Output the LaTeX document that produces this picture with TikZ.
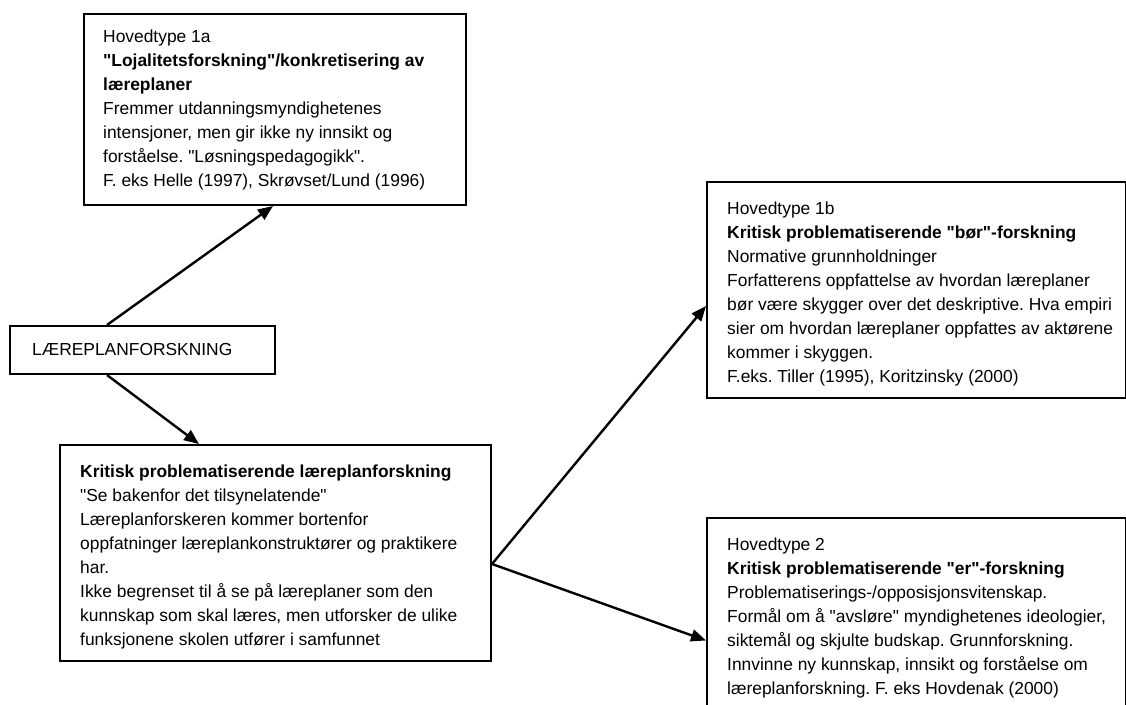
\documentclass[tikz,border=0pt]{standalone}
\usepackage{fontspec}
% plain family: no TeX ligatures, so " stays a straight quote
\newfontfamily\arialfont{Liberation Sans}
\usetikzlibrary{arrows.meta}
\newcommand{\lead}{\rule{0pt}{14pt}}
\begin{document}
\begin{tikzpicture}[x=1pt,y=-1pt,
  frame/.style={draw=black, line width=2pt, rectangle, anchor=north west, inner sep=0pt},
  body/.style={anchor=north west, inner sep=0pt, align=left,
               font=\arialfont\frenchspacing\fontsize{17.4pt}{24pt}\selectfont},
  link/.style={line width=2.4pt, -{Triangle[length=15pt,width=12pt]}}]
\useasboundingbox (0,0) rectangle (1126,704);
\clip (0,0) rectangle (1126,704);
\fill[white] (0,0) rectangle (1126,704);

% frames
\node[frame, minimum width=382pt, minimum height=191pt] (A) at (83,13) {};
\node[frame, minimum width=265pt, minimum height=48pt]  (L) at (9,325) {};
\node[frame, minimum width=431pt, minimum height=216pt] (M) at (59,444) {};
\node[frame, minimum width=419pt, minimum height=216pt] (B) at (706,181) {};
\node[frame, minimum width=419pt, minimum height=210pt] (C) at (706,517) {};

% texts
\node[body] (At) at (103,28) {\lead Hovedtype 1a\\
\textbf{"Lojalitetsforskning"/konkretisering av}\\
\textbf{læreplaner}\\
Fremmer utdanningsmyndighetenes\\
intensjoner, men gir ikke ny innsikt og\\
forståelse. "Løsningspedagogikk".\\
F. eks Helle (1997), Skrøvset/Lund (1996)};

\node[body] (Lt) at (32,341) {\lead LÆREPLANFORSKNING};

\node[body] (Mt) at (80,463) {\lead\textbf{Kritisk problematiserende læreplanforskning}\\
"Se bakenfor det tilsynelatende"\\
Læreplanforskeren kommer bortenfor\\
oppfatninger læreplankonstruktører og praktikere\\
har.\\
Ikke begrenset til å se på læreplaner som den\\
kunnskap som skal læres, men utforsker de ulike\\
funksjonene skolen utfører i samfunnet};

\node[body] (Bt) at (727,200) {\lead Hovedtype 1b\\
\textbf{Kritisk problematiserende "bør"-forskning}\\
Normative grunnholdninger\\
Forfatterens oppfattelse av hvordan læreplaner\\
bør være skygger over det deskriptive. Hva empiri\\
sier om hvordan læreplaner oppfattes av aktørene\\
kommer i skyggen.\\
F.eks. Tiller (1995), Koritzinsky (2000)};

\node[body] (Ct) at (727,536) {\lead Hovedtype 2\\
\textbf{Kritisk problematiserende "er"-forskning}\\
Problematiserings-/opposisjonsvitenskap.\\
Formål om å "avsløre" myndighetenes ideologier,\\
siktemål og skjulte budskap. Grunnforskning.\\
Innvinne ny kunnskap, innsikt og forståelse om\\
læreplanforskning. F. eks Hovdenak (2000)};

% connectors
\coordinate (fork) at ([yshift=-11pt]M.east);
\draw[link] ([xshift=-35.5pt]L.north) -- ([xshift=-2pt]A.south);
\draw[link] ([xshift=-35.5pt]L.south) -- ([xshift=-76.5pt]M.north);
\draw[link] (fork) -- ([yshift=-16pt]B.west);
\draw[link] (fork) -- ([yshift=-17.5pt]C.west);
\end{tikzpicture}
\end{document}
